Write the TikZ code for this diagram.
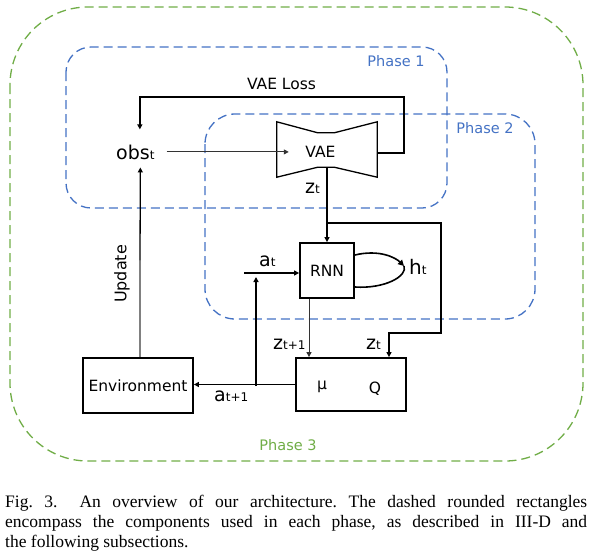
\documentclass[tikz,border=0pt]{standalone}
\usepackage{fontspec}
\setmainfont{Liberation Serif}
\newfontfamily\dia{DejaVu Sans}
\usetikzlibrary{arrows.meta,calc}
\definecolor{pblue}{HTML}{4472C4}
\definecolor{pgreen}{HTML}{70AD47}
\newcommand\symlbl[2]{{\fontsize{19}{19}\selectfont #1}{\fontsize{12}{12}\selectfont #2}}
\frenchspacing
\begin{document}
\begin{tikzpicture}[x=1pt,y=-1pt,
  phase/.style={line width=1.3pt, dash pattern=on 9pt off 5pt},
  box/.style={draw, line width=1.8pt, inner sep=0pt},
  lbl/.style={inner sep=0pt, font=\dia\fontsize{15.5}{15.5}\selectfont},
  phlbl/.style={inner sep=0pt, font=\dia\fontsize{14.5}{14.5}\selectfont},
  captxt/.style={anchor=base west, inner sep=0pt, font=\fontsize{17.5}{20}\selectfont},
  thk/.style={line width=1.7pt},
  thn/.style={line width=1pt, black!80},
  tip/.style={-{Triangle[length=6pt,width=6pt]}},
  tipsm/.style={-{Triangle[length=5pt,width=5pt]}},
]
\path[use as bounding box] (0,0) rectangle (592,558);

% phase frames
\draw[phase, pgreen, rounded corners=78pt] (10,7) rectangle (583,461);
\draw[phase, pblue, rounded corners=25pt] (66,47) rectangle (447,208);
\draw[phase, pblue, rounded corners=30pt] (205,114) rectangle (535,319);
\node[phlbl, text=pblue] (ph1) at (396,61) {Phase 1};
\node[phlbl, text=pblue] (ph2) at (485,128) {Phase 2};
\node[phlbl, text=pgreen] (ph3) at (288,445) {Phase 3};

% nodes
\node[lbl, anchor=base west] (obs) at (116,159) {\symlbl{obs}{t}};
\node[inner sep=0pt, minimum width=100pt, minimum height=55pt] (vae) at (327,149.5) {};
\draw[line width=1.3pt] (vae.north west) -- ($(vae.north west)+(41,11)$) -- ($(vae.north east)+(-43,11)$) -- (vae.north east) -- (vae.south east) -- ($(vae.south east)+(-43,-10)$) -- ($(vae.south west)+(41,-10)$) -- (vae.south west) -- cycle;
\node[lbl] (vaet) at (320.5,152) {VAE};
\node[box, lbl, line width=1.8pt, draw, minimum width=54pt, minimum height=55pt] (rnn) at (327,270.5) {RNN};
\node[box, minimum width=110pt, minimum height=53pt] (q) at (351,384.5) {};
\node[lbl] (mu) at (322,387) {μ};
\node[lbl] (qt) at (375,389) {Q};
\node[box, lbl, line width=1.8pt, draw, minimum width=110pt, minimum height=55pt] (env) at (138,385.5) {Environment};

% labels
\node[lbl] (loss) at (281.5,84) {VAE Loss};
\node[lbl, anchor=base west] (zt1) at (305,193) {\symlbl{z}{t}};
\node[lbl, anchor=base west] (at) at (259,266) {\symlbl{a}{t}};
\node[lbl, anchor=base west] (ht) at (409,274) {{\fontsize{20}{20}\selectfont h}{\fontsize{12}{12}\selectfont t}};
\node[lbl, anchor=base west] (ztp) at (273,349) {\symlbl{z}{t+1}};
\node[lbl, anchor=base west] (zt2) at (366,349) {\symlbl{z}{t}};
\node[lbl, anchor=base west] (atp) at (214,401) {\symlbl{a}{t+1}};
\node[lbl, rotate=90, font=\dia\fontsize{16}{16}\selectfont] (upd) at (122,274) {Update};

% coordinates
\coordinate (lossR) at (404,97);
\coordinate (zr) at (441,223);
\coordinate (zc) at (441,333);
\coordinate (ain) at (244,273);
\coordinate (aj) at (256,386);
\coordinate (um) at (140,260);
\coordinate (hl) at (404,266);

% connectors
\draw[thn, tipsm] ([xshift=12pt]obs.east) -- ([xshift=12pt]obs.east -| vae.west);
\draw[thk, tipsm] ([yshift=-3.5pt]vae.east) -| (lossR) -| ([xshift=4.5pt,yshift=15pt]obs.north);
\draw[thk, tipsm] ([yshift=10pt]vae.south) -- (rnn.north);
\draw[thk, tipsm] (zr -| vae.south) -- (zr) -- (zc) -| ([xshift=38pt]q.north);
\draw[thn, tipsm] ([xshift=-18pt]rnn.south) -- ([xshift=-18pt]rnn.south |- q.north);
\draw[thk, tipsm] (ain) -- (ain -| rnn.west);
\draw[thk, tipsm] (q.west) -- (q.west -| env.east);
\draw[thk, tipsm] (aj) -- ([yshift=-4pt]aj |- ain);
\draw[line width=1.6pt, tip] ([yshift=15.5pt]rnn.east) .. controls +(25,-6) and +(-8,-8) .. (hl);
\draw[line width=1.6pt] (hl) .. controls +(4,10) and +(30,2) .. ([yshift=-16.5pt]rnn.east);
\draw[line width=1.3pt, black!50] ([xshift=2pt]env.north) -- (um);
\draw[line width=1.3pt, tipsm] (um) -- ([xshift=5pt,yshift=-8pt]obs.south);

% caption
\node[captxt] (c1) at (5,507) {\makebox[582pt][s]{Fig.~3.\hspace{22pt}An overview of our architecture. The dashed rounded rectangles}};
\node[captxt] (c2) at (5,527) {\makebox[582pt][s]{encompass the components used in each phase, as described in III-D and}};
\node[captxt] (c3) at (5,547) {the following subsections.};
\end{tikzpicture}
\end{document}
